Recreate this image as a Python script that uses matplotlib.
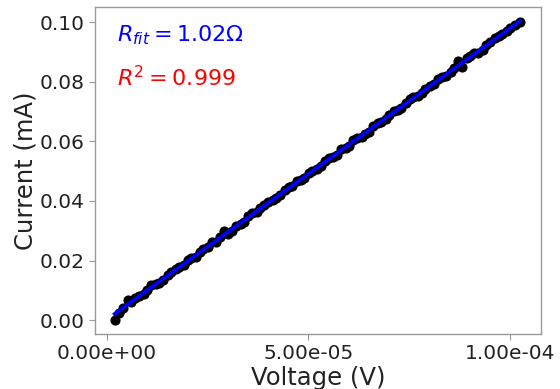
import matplotlib
matplotlib.use("Agg")
import matplotlib.pyplot as plt
from matplotlib.ticker import FormatStrFormatter
import numpy as np

# Voltage in microvolts, current in mA
voltage_uV = [2.0, 3.1, 4.0, 5.2, 6.1, 7.0, 8.1, 9.2, 10.0, 11.1, 12.2, 13.0, 14.1, 15.2,
              16.0, 17.1, 18.0, 19.2, 20.1, 21.0, 22.2, 23.1, 24.0, 25.1, 26.2, 27.0, 28.1,
              29.0, 30.2, 31.1, 32.0, 33.2, 34.1, 35.0, 36.1, 37.2, 38.0, 39.1, 40.0, 41.2,
              42.1, 43.0, 44.2, 45.1, 46.0, 47.1, 48.2, 49.0, 50.1, 51.0, 52.2, 53.1, 54.0,
              55.2, 56.1, 57.0, 58.1, 59.2, 60.0, 61.1, 62.0, 63.2, 64.1, 65.0, 66.1, 67.2,
              68.0, 69.1, 70.0, 71.2, 72.1, 73.0, 74.2, 75.1, 76.0, 77.1, 78.2, 79.0, 80.1,
              81.0, 82.2, 83.1, 84.0, 85.2, 86.1, 87.0, 88.1, 89.2, 90.0, 91.1, 92.0, 93.2,
              94.1, 95.0, 96.1, 97.2, 98.0, 99.1, 100.0, 101.2, 102.4]
current_mA = [0.0001, 0.0022, 0.0041, 0.0066, 0.0062, 0.0075, 0.0081, 0.0088, 0.0102, 0.0118,
              0.0121, 0.0125, 0.0135, 0.0151, 0.0163, 0.0170, 0.0178, 0.0186, 0.0201, 0.0209,
              0.0212, 0.0229, 0.0240, 0.0244, 0.0262, 0.0263, 0.0278, 0.0298, 0.0290, 0.0300,
              0.0316, 0.0323, 0.0331, 0.0348, 0.0359, 0.0362, 0.0376, 0.0388, 0.0396, 0.0402,
              0.0410, 0.0419, 0.0438, 0.0446, 0.0449, 0.0466, 0.0470, 0.0478, 0.0495, 0.0502,
              0.0509, 0.0518, 0.0533, 0.0545, 0.0548, 0.0556, 0.0574, 0.0578, 0.0586, 0.0604,
              0.0612, 0.0615, 0.0626, 0.0632, 0.0652, 0.0662, 0.0664, 0.0675, 0.0690, 0.0703,
              0.0705, 0.0712, 0.0730, 0.0742, 0.0748, 0.0752, 0.0764, 0.0778, 0.0788, 0.0792,
              0.0809, 0.0818, 0.0821, 0.0833, 0.0846, 0.0870, 0.0852, 0.0879, 0.0889, 0.0898,
              0.0896, 0.0907, 0.0924, 0.0935, 0.0948, 0.0955, 0.0962, 0.0970, 0.0981, 0.0990,
              0.1002]

fit_label = r'$R_{fit} = 1.02\Omega$'
r2_label = r'$R^2 = 0.999$'

V = np.array(voltage_uV) * 1e-6
I = np.array(current_mA)

fig = plt.figure(figsize=(5.6, 3.89), dpi=100)
ax = fig.add_axes([0.170, 0.1414, 0.796, 0.8406])

ax.plot(V, I, 'o', color='black', markersize=6.3, zorder=2)
coef = np.polyfit(V, I, 1)
ax.plot(V, np.polyval(coef, V), color='blue', linewidth=2.6, zorder=3)

ax.set_xticks([0, 5e-5, 1e-4])
ax.set_yticks([0.0, 0.02, 0.04, 0.06, 0.08, 0.10])
ax.xaxis.set_major_formatter(FormatStrFormatter('%.2e'))
ax.yaxis.set_major_formatter(FormatStrFormatter('%.2f'))
ax.set_xlim(-2.8e-6, 1.076e-4)
ax.set_ylim(-0.0047, 0.1052)

for s in ax.spines.values():
    s.set_color('#999999')
    s.set_linewidth(1.0)
ax.tick_params(axis='both', colors='#999999', labelcolor='#222222', labelsize=14.5,
               length=4)

ax.set_xlabel('Voltage (V)', fontsize=17.5, color='#222222', labelpad=2)
ax.set_ylabel('Current (mA)', fontsize=17.5, color='#222222', labelpad=2)

ax.text(0.05, 0.915, fit_label, color='blue', fontsize=16, transform=ax.transAxes,
        va='center', ha='left')
ax.text(0.05, 0.785, r2_label, color='red', fontsize=16, transform=ax.transAxes,
        va='center', ha='left')

fig.savefig('out.png', dpi=100)
